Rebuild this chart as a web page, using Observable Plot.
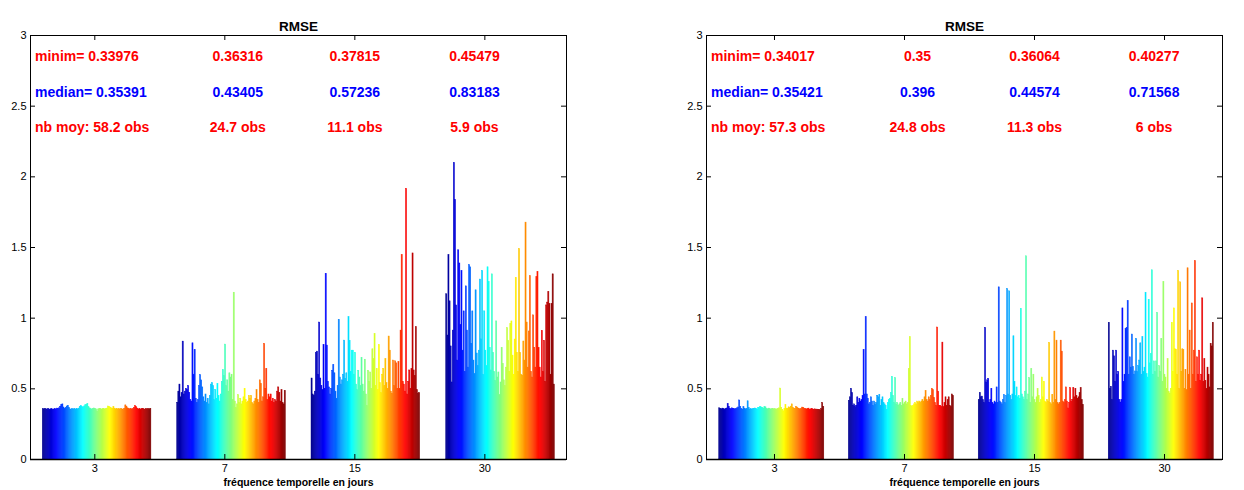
<!DOCTYPE html>
<html><head><meta charset="utf-8">
<script src="https://cdn.jsdelivr.net/npm/d3@7"></script>
<script src="https://cdn.jsdelivr.net/npm/@observablehq/plot@0.6"></script>
<style>
body{margin:0;background:#fff}
#chart{position:relative;width:1244px;height:490px;background:#fff}
#chart svg{position:absolute;top:0}
</style>
</head><body><div id="chart"></div>
<script>
// ---- categories / tick labels ----
const groups = ["3", "7", "15", "30"];
const yTicks = [0, 0.5, 1, 1.5, 2, 2.5, 3];
const titleText = "RMSE";
const xLabelText = "fréquence temporelle en jours";

// ---- left panel: RMSE per series (100 series per group) ----
const left3 = [0.356,0.354,0.358,0.355,0.353,0.357,0.352,0.355,0.356,0.351,
0.354,0.357,0.353,0.360,0.358,0.362,0.372,0.385,0.390,0.368,
0.358,0.364,0.375,0.380,0.366,0.355,0.352,0.357,0.354,0.356,
0.353,0.358,0.355,0.360,0.372,0.378,0.370,0.368,0.375,0.383,
0.386,0.392,0.370,0.362,0.356,0.353,0.358,0.361,0.357,0.355,
0.340,0.354,0.358,0.356,0.353,0.356,0.359,0.354,0.357,0.360,
0.375,0.372,0.368,0.362,0.357,0.371,0.360,0.355,0.358,0.354,
0.356,0.353,0.357,0.355,0.352,0.359,0.383,0.374,0.362,0.357,
0.355,0.358,0.353,0.356,0.366,0.378,0.370,0.360,0.354,0.357,
0.353,0.356,0.359,0.355,0.352,0.358,0.354,0.357,0.355,0.358];
const left7 = [0.40,0.48,0.53,0.44,0.47,0.834,0.46,0.48,0.50,0.49,
0.52,0.47,0.42,0.41,0.822,0.60,0.775,0.43,0.40,0.42,
0.52,0.597,0.56,0.51,0.44,0.41,0.46,0.40,0.43,0.39,
0.45,0.53,0.54,0.52,0.42,0.49,0.43,0.535,0.45,0.41,
0.46,0.55,0.633,0.59,0.813,0.52,0.56,0.48,0.61,0.58,
0.60,0.42,1.18,0.41,0.363,0.39,0.455,0.40,0.43,0.39,
0.41,0.44,0.50,0.42,0.40,0.41,0.45,0.43,0.45,0.40,
0.39,0.41,0.43,0.49,0.42,0.40,0.56,0.535,0.41,0.44,
0.818,0.50,0.64,0.42,0.46,0.44,0.46,0.41,0.43,0.40,
0.42,0.41,0.48,0.51,0.47,0.41,0.49,0.40,0.39,0.485];
const left15 = [0.573,0.46,0.45,0.48,0.754,0.763,0.60,0.969,0.573,0.52,
0.49,0.81,0.50,1.313,0.806,0.55,0.51,0.46,0.50,0.628,
0.668,0.61,0.48,0.43,0.52,0.988,0.58,0.53,0.56,0.60,
0.841,0.57,0.61,0.55,1.007,0.84,0.62,0.77,0.77,0.60,
0.755,0.53,0.49,0.628,0.58,0.52,0.72,0.53,0.48,0.706,
0.46,0.378,0.628,0.55,0.616,0.50,0.78,0.71,0.889,0.52,
0.64,0.49,0.81,0.54,0.47,0.60,0.64,0.52,0.71,0.54,
0.50,0.87,0.77,0.48,0.465,0.70,0.52,0.695,0.68,0.50,
0.69,0.50,0.912,1.446,0.55,0.53,0.48,1.915,0.46,0.55,
0.63,0.50,0.64,1.458,0.63,0.59,0.936,0.49,0.465,0.47];
const left30 = [1.169,0.877,1.446,1.119,0.80,0.545,0.912,2.098,1.837,1.09,
0.70,1.48,1.387,0.95,1.334,0.77,1.048,0.62,1.225,0.912,
0.65,1.375,1.36,0.818,1.048,0.70,0.604,1.197,0.75,0.66,
0.77,1.273,0.85,1.334,0.60,1.048,0.77,0.66,1.36,1.256,
0.79,0.63,1.31,0.755,0.62,0.557,0.977,0.58,0.616,0.455,
0.545,0.79,0.676,0.56,0.52,0.65,0.929,0.84,0.62,0.96,
0.977,0.735,0.60,0.849,1.285,0.755,0.62,1.489,0.755,0.60,
0.593,0.835,0.70,1.676,0.969,0.65,0.906,1.297,0.62,0.58,
1.02,0.79,0.65,1.29,1.327,0.79,0.65,0.58,0.91,0.62,
0.84,0.55,1.09,1.11,1.185,1.10,0.60,1.10,1.31,0.53];

// ---- right panel ----
const right3 = [0.362,0.358,0.355,0.360,0.356,0.353,0.357,0.361,0.392,0.372,
0.358,0.355,0.362,0.359,0.356,0.354,0.358,0.362,0.368,0.418,
0.372,0.356,0.353,0.371,0.360,0.355,0.358,0.412,0.366,0.354,
0.357,0.352,0.356,0.359,0.361,0.357,0.354,0.363,0.366,0.371,
0.368,0.364,0.360,0.372,0.369,0.358,0.355,0.360,0.357,0.353,
0.356,0.359,0.354,0.357,0.352,0.355,0.358,0.362,0.502,0.366,
0.352,0.341,0.357,0.386,0.360,0.358,0.369,0.364,0.374,0.390,
0.366,0.360,0.357,0.372,0.368,0.361,0.357,0.354,0.359,0.367,
0.363,0.358,0.356,0.354,0.357,0.360,0.352,0.355,0.358,0.354,
0.352,0.355,0.351,0.353,0.350,0.352,0.348,0.356,0.400,0.372];
const right7 = [0.415,0.44,0.50,0.47,0.38,0.39,0.37,0.38,0.44,0.40,
0.43,0.41,0.42,0.45,0.775,0.46,1.007,0.46,0.43,0.39,
0.40,0.44,0.41,0.38,0.41,0.39,0.40,0.45,0.44,0.457,
0.38,0.42,0.44,0.40,0.39,0.38,0.35,0.40,0.42,0.43,
0.47,0.585,0.45,0.40,0.576,0.39,0.40,0.38,0.39,0.40,
0.38,0.43,0.39,0.40,0.41,0.39,0.40,0.64,0.865,0.38,
0.37,0.38,0.39,0.40,0.39,0.41,0.40,0.41,0.40,0.41,
0.42,0.41,0.44,0.485,0.42,0.41,0.44,0.42,0.45,0.50,
0.49,0.435,0.40,0.38,0.934,0.48,0.38,0.38,0.37,0.827,
0.37,0.40,0.44,0.38,0.42,0.44,0.38,0.37,0.46,0.45];
const right15 = [0.42,0.47,0.44,0.445,0.42,0.40,0.931,0.545,0.56,0.571,
0.40,0.42,0.50,0.40,0.39,0.41,0.40,0.51,0.40,1.218,
0.41,0.40,0.39,0.42,0.455,0.40,0.45,1.206,0.46,1.19,
0.45,0.42,0.46,0.872,0.55,0.45,0.51,0.44,0.45,0.43,
1.066,0.46,0.44,0.42,0.48,1.438,0.42,0.46,0.576,0.40,
0.64,0.44,0.60,0.42,0.40,0.44,0.50,0.45,0.40,0.42,
0.58,0.44,0.55,0.41,0.40,0.42,0.41,0.825,0.40,0.39,
0.457,0.40,0.905,0.42,0.841,0.40,0.39,0.40,0.841,0.763,
0.41,0.40,0.42,0.51,0.41,0.361,0.40,0.505,0.41,0.42,
0.505,0.44,0.50,0.45,0.43,0.44,0.47,0.505,0.42,0.386];
const right30 = [0.967,0.50,0.514,0.42,0.77,0.73,0.55,0.77,0.60,0.62,
0.42,0.403,0.42,1.069,0.55,0.60,0.924,0.931,1.121,0.60,
0.723,0.65,0.884,0.656,0.60,0.623,0.853,0.62,0.66,0.70,
0.822,0.60,0.865,0.62,0.65,1.18,0.604,0.58,1.13,0.68,
0.746,1.339,0.60,0.694,0.62,0.694,1.038,0.58,0.66,0.62,
0.853,0.55,1.256,0.60,0.58,0.50,0.71,0.48,0.467,0.50,
0.967,0.62,1.069,0.78,0.777,0.60,1.334,0.50,1.254,0.62,
0.78,0.775,0.50,0.635,0.49,1.353,0.60,0.912,0.50,1.104,
0.60,0.77,1.403,0.55,0.723,0.60,0.77,0.557,0.60,1.14,
0.55,0.71,0.557,0.50,0.65,0.60,0.51,0.818,0.80,0.967];

// ---- annotation texts ----
const leftMinim  = ["0.33976", "0.36316", "0.37815", "0.45479"];
const leftMedian = ["0.35391", "0.43405", "0.57236", "0.83183"];
const leftNbMoy  = ["58.2", "24.7", "11.1", "5.9"];
const rightMinim  = ["0.34017", "0.35", "0.36064", "0.40277"];
const rightMedian = ["0.35421", "0.396", "0.44574", "0.71568"];
const rightNbMoy  = ["57.3", "24.8", "11.3", "6"];

// jet colormap stops
const jetDomain = [0, 0.125, 0.375, 0.625, 0.875, 1];
const jetRange = ["#00008f", "#0000ff", "#00ffff", "#ffff00", "#ff0000", "#800000"];

const FONT = "'Liberation Sans', Arial, Helvetica, sans-serif";

function panel(cfg) {
  const W = 622, H = 490, mt = 35, mb = 31;
  const fw = W - cfg.marginLeft - cfg.marginRight;
  const fh = H - mt - mb;
  const rows = [];
  cfg.series.forEach((vals, g) => {
    const N = vals.length;
    vals.forEach((v, i) => rows.push({
      v, t: i / (N - 1),
      x1: cfg.groupStart[g] + cfg.groupWidth * i / N,
      x2: cfg.groupStart[g] + cfg.groupWidth * (i + 1) / N
    }));
  });
  const firstX = cfg.domain[0] + 4.5 / (fw / (cfg.domain[1] - cfg.domain[0]));
  const textX = [2.1, 3.0, 3.92];
  const startTexts = [], midTexts = [];
  const lines = [
    {y: 2.85, color: "#ff0000", first: "minim= ", vals: cfg.minim, suffix: ""},
    {y: 2.6, color: "#0000ff", first: "median= ", vals: cfg.median, suffix: ""},
    {y: 2.35, color: "#ff0000", first: "nb moy: ", vals: cfg.nbmoy, suffix: " obs"}
  ];
  for (const L of lines) {
    startTexts.push({x: firstX, y: L.y, s: L.first + L.vals[0] + L.suffix, c: L.color});
    for (let k = 1; k < 4; k++) midTexts.push({x: textX[k - 1], y: L.y, s: L.vals[k] + L.suffix, c: L.color});
  }
  const svg = Plot.plot({
    width: W, height: H,
    marginLeft: cfg.marginLeft, marginRight: cfg.marginRight, marginTop: mt, marginBottom: mb,
    style: {fontFamily: FONT, background: "white", color: "black", overflow: "visible"},
    x: {type: "linear", domain: cfg.domain},
    y: {domain: [0, 3]},
    color: {type: "linear", domain: jetDomain, range: jetRange},
    marks: [
      Plot.rectY(rows, {x1: "x1", x2: "x2", y: "v", fill: "t", stroke: "t", strokeWidth: 0.5}),
      Plot.tickY(yTicks, {y: d => d, insetRight: fw - 5, stroke: "black"}),
      Plot.tickY(yTicks, {y: d => d, insetLeft: fw - 5, stroke: "black"}),
      Plot.tickX([1, 2, 3, 4], {x: d => d, insetBottom: fh - 5, stroke: "black"}),
      Plot.tickX([1, 2, 3, 4], {x: d => d, insetTop: fh - 5, stroke: "black"}),
      Plot.frame({stroke: "black"}),
      Plot.ruleY([0], {stroke: "black", strokeWidth: 1.5}),
      Plot.axisY(yTicks, {tickSize: 0, tickPadding: 4, fontSize: 11, label: null, tickFormat: d => String(d)}),
      Plot.axisX([1, 2, 3, 4], {tickSize: 0, tickPadding: 5, fontSize: 11, label: null, tickFormat: d => groups[d - 1]}),
      Plot.text(startTexts, {x: "x", y: "y", text: "s", fill: "c", textAnchor: "start", fontSize: 14, fontWeight: "bold"}),
      Plot.text(midTexts, {x: "x", y: "y", text: "s", fill: "c", textAnchor: "middle", fontSize: 14, fontWeight: "bold"}),
      Plot.text([titleText], {frameAnchor: "top", dy: -14, fontSize: 13.5, fontWeight: "bold", fill: "black"}),
      Plot.text([xLabelText], {frameAnchor: "bottom", dy: 26, fontSize: 10.5, fontWeight: "bold", fill: "black"})
    ]
  });
  svg.style.left = cfg.left + "px";
  return svg;
}

const chart = document.getElementById("chart");
chart.appendChild(panel({
  left: 0, marginLeft: 30, marginRight: 56,
  domain: [0.5054, 4.628],
  groupStart: [0.600, 1.634, 2.667, 3.703], groupWidth: 0.835,
  series: [left3, left7, left15, left30],
  minim: leftMinim, median: leftMedian, nbmoy: leftNbMoy
}));
chart.appendChild(panel({
  left: 622, marginLeft: 84, marginRight: 22,
  domain: [0.477, 4.446],
  groupStart: [0.575, 1.572, 2.571, 3.571], groupWidth: 0.808,
  series: [right3, right7, right15, right30],
  minim: rightMinim, median: rightMedian, nbmoy: rightNbMoy
}));
</script>
</body></html>
